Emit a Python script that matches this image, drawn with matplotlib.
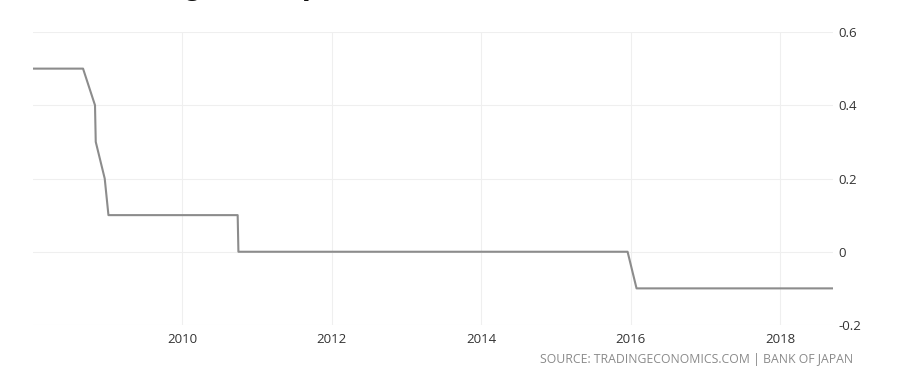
import matplotlib.pyplot as plt

# Tasa de interés del Banco de Japón (años decimales)
fechas = [2008.0, 2008.67, 2008.83, 2008.84, 2008.96, 2009.01,
          2010.74, 2010.75, 2015.96, 2016.08, 2018.71]
tasas = [0.5, 0.5, 0.4, 0.3, 0.2, 0.1,
         0.1, 0.0, 0.0, -0.1, -0.1]

anios = [2010, 2012, 2014, 2016, 2018]
yticks = [-0.2, 0, 0.2, 0.4, 0.6]
ylabels = ["-0.2", "0", "0.2", "0.4", "0.6"]

fig = plt.figure(figsize=(9.06, 3.82), dpi=100)
ax = fig.add_axes([33 / 906, 1 - 325 / 382, 800 / 906, 293 / 382])

ax.plot(fechas, tasas, color="#8c8c8c", linewidth=1.5)

ax.set_xlim(2008.0, 2018.71)
ax.set_ylim(-0.2, 0.6)
ax.set_xticks(anios)
ax.set_xticklabels([str(a) for a in anios])
ax.set_yticks(yticks)
ax.set_yticklabels(ylabels)

ax.yaxis.tick_right()
ax.tick_params(axis="both", length=0, labelsize=9.5, colors="#333333")
ax.tick_params(axis="y", pad=4)
ax.tick_params(axis="x", pad=6)
for lbl in ax.get_xticklabels() + ax.get_yticklabels():
    lbl.set_fontfamily("Open Sans")

ax.grid(True, color="#efefef", linewidth=0.8)
for s in ax.spines.values():
    s.set_visible(False)

# Título recortado en la parte superior (solo se ven los descendentes)
fig.text(103 / 906, 1 + 6.2 / 382, "Change in Japan's Interest Rate",
         fontsize=23, fontweight="bold", family="Liberation Sans",
         color="#111111", ha="left", va="baseline")

fig.text(853 / 906, 1 - 360 / 382, "SOURCE: TRADINGECONOMICS.COM | BANK OF JAPAN",
         fontsize=8.8, family="Open Sans", color="#8a8a8a", ha="right", va="center")

plt.savefig("out.png", dpi=100)
